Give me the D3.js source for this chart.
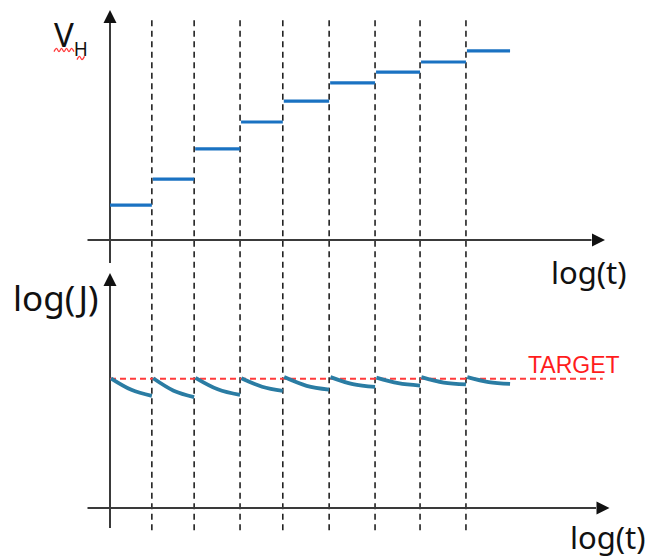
<!DOCTYPE html>
<html>
<head>
<meta charset="utf-8">
<script src="https://cdn.jsdelivr.net/npm/d3@7/dist/d3.min.js"></script>
<style>
  html, body { margin: 0; padding: 0; background: #fff; }
  svg { display: block; }
  text { font-family: "Noto Sans", "Open Sans", sans-serif; }
</style>
</head>
<body>
<svg id="chart" width="645" height="557"></svg>
<script>
// Stress-step boundaries along log(t), arbitrary units
const stepBounds = [0, 0.93, 1.87, 2.89, 3.84, 4.87, 5.89, 6.89, 7.91, 8.89];
// Applied V_H level during each step
const vhLevels = [1.52, 2.65, 3.96, 5.13, 6.04, 6.83, 7.30, 7.74, 8.22];
// log(J) at the start, middle and end of each step
const jStart = [5.52, 5.52, 5.54, 5.52, 5.57, 5.57, 5.55, 5.57, 5.57];
const jMid   = [5.03, 4.99, 5.05, 5.16, 5.20, 5.27, 5.31, 5.34, 5.36];
const jEnd   = [4.77, 4.72, 4.81, 4.98, 5.04, 5.15, 5.21, 5.26, 5.28];
// Target log(J) level
const targetJ = 5.5;

const svg = d3.select("#chart");

const x  = d3.scaleLinear().domain([0, 10]).range([110, 560]);
const yV = d3.scaleLinear().domain([0, 10]).range([240, 10]);
const yJ = d3.scaleLinear().domain([0, 10]).range([508, 273]);

const axisColor = "#3a3a3a";

function arrowHead(tipX, tipY, dir) {
  const L = 13, W = 6.5;
  let pts;
  if (dir === "up") pts = [[tipX, tipY], [tipX - W, tipY + L], [tipX + W, tipY + L]];
  else pts = [[tipX, tipY], [tipX - L, tipY - W], [tipX - L, tipY + W]];
  svg.append("path").attr("d", "M" + pts.join("L") + "Z").attr("fill", "#111");
}

// Vertical dashed step boundaries spanning both panels
svg.append("g").selectAll("line")
  .data(stepBounds.slice(1, 9))
  .join("line")
  .attr("x1", d => x(d)).attr("x2", d => x(d))
  .attr("y1", yV(9.55)).attr("y2", yJ(-0.95))
  .attr("stroke", "#222").attr("stroke-width", 1.6)
  .attr("stroke-dasharray", "6,4.5");

// Top panel axes
svg.append("line").attr("x1", x(0)).attr("x2", x(0))
  .attr("y1", yV(-1)).attr("y2", yV(9.5))
  .attr("stroke", axisColor).attr("stroke-width", 2);
arrowHead(x(0), yV(10), "up");
svg.append("line").attr("x1", x(-0.5)).attr("x2", x(10.7))
  .attr("y1", yV(0)).attr("y2", yV(0))
  .attr("stroke", axisColor).attr("stroke-width", 2);
arrowHead(x(11), yV(0), "right");

// Bottom panel axes
svg.append("line").attr("x1", x(0)).attr("x2", x(0))
  .attr("y1", yJ(-0.85)).attr("y2", yJ(9.5))
  .attr("stroke", axisColor).attr("stroke-width", 2);
arrowHead(x(0), yJ(10), "up");
svg.append("line").attr("x1", x(-0.5)).attr("x2", x(10.8))
  .attr("y1", yJ(0)).attr("y2", yJ(0))
  .attr("stroke", axisColor).attr("stroke-width", 2);
arrowHead(x(11.1), yJ(0), "right");

// V_H staircase
svg.append("g").selectAll("line")
  .data(vhLevels)
  .join("line")
  .attr("x1", (d, i) => x(stepBounds[i]) + (i ? 1 : 0))
  .attr("x2", (d, i) => x(stepBounds[i + 1]))
  .attr("y1", d => yV(d)).attr("y2", d => yV(d))
  .attr("stroke", "#1a72c2").attr("stroke-width", 3.2);

// Target level
svg.append("line")
  .attr("x1", x(0)).attr("x2", x(10.95))
  .attr("y1", yJ(targetJ)).attr("y2", yJ(targetJ))
  .attr("stroke", "#ff3b3b").attr("stroke-width", 1.8)
  .attr("stroke-dasharray", "6,4");
svg.append("text")
  .attr("x", 528).attr("y", yJ(targetJ) - 5.5)
  .style("font-family", "'Liberation Sans', Arial, sans-serif")
  .attr("font-size", 23).attr("fill", "#ff1c1c")
  .text("TARGET");

// log(J) decay within each step
const jLine = d3.line().x(d => x(d[0])).y(d => yJ(d[1])).curve(d3.curveNatural);
svg.append("g").selectAll("path")
  .data(jEnd.map((e, i) => {
    const a = stepBounds[i] + (i ? 0.03 : 0.02), b = stepBounds[i + 1];
    return [[a, jStart[i]], [(a + b) / 2, jMid[i]], [b, e]];
  }))
  .join("path")
  .attr("d", jLine)
  .attr("fill", "none")
  .attr("stroke", "#2a7ca3").attr("stroke-width", 3.8)
  .attr("stroke-linecap", "butt");

// Axis titles
const vh = svg.append("text").attr("x", 54).attr("y", 47).attr("fill", "#111");
vh.append("tspan").attr("font-size", 33).text("V");
vh.append("tspan").attr("font-size", 19).attr("dy", 9).text("H");

// Wavy underline under V_H
function squiggle(x0, x1, y0) {
  const pts = [];
  for (let px = x0, k = 0; px <= x1; px += 2.5, k++) pts.push([px, y0 + (k % 2 ? -1.6 : 1.6)]);
  svg.append("path").attr("d", d3.line().curve(d3.curveCardinal)(pts))
    .attr("fill", "none").attr("stroke", "#ff3a3a").attr("stroke-width", 1.3);
}
squiggle(54, 76, 50);
squiggle(77, 86, 58);

svg.append("text").attr("x", 13).attr("y", 311)
  .attr("font-size", 35).attr("fill", "#111").text("log(J)");
svg.append("text").attr("x", 551).attr("y", 284)
  .attr("font-size", 31).attr("fill", "#111").text("log(t)");
svg.append("text").attr("x", 570).attr("y", 549)
  .attr("font-size", 31).attr("fill", "#111").text("log(t)");
</script>
</body>
</html>
